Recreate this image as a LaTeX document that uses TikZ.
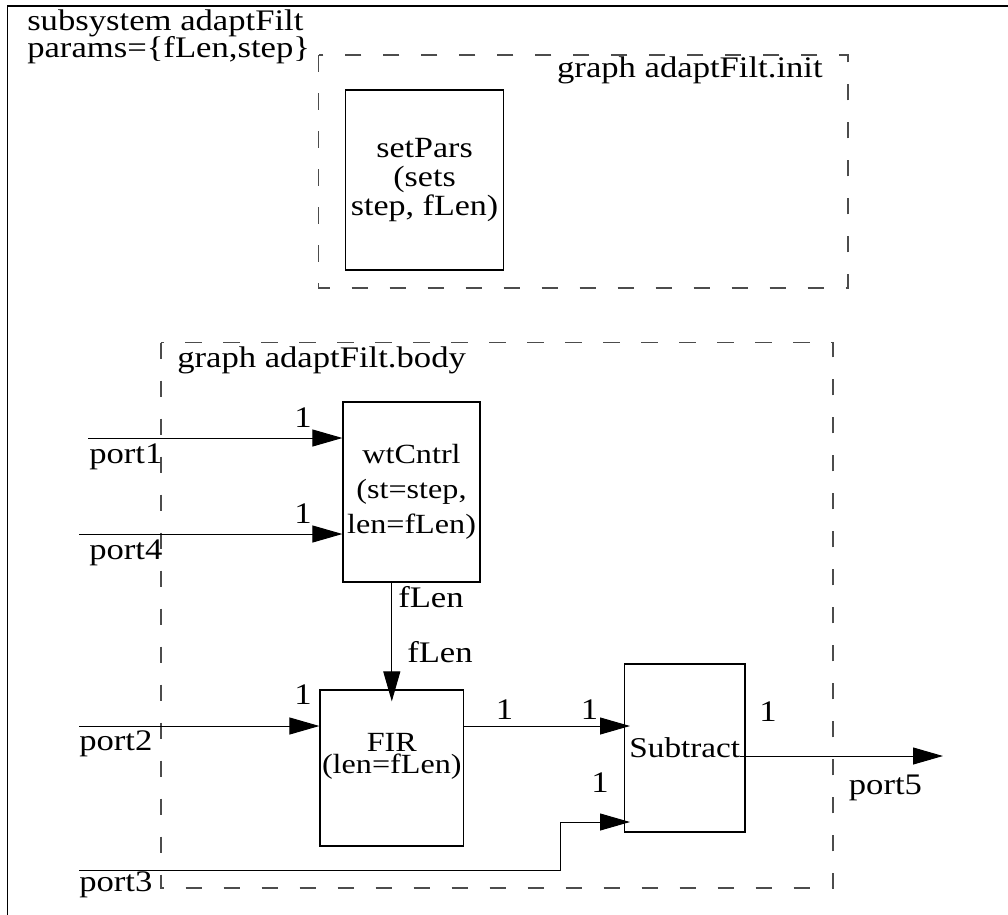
\documentclass[tikz,border=0pt]{standalone}
\usepackage{fontspec}
\setmainfont{Liberation Serif}[FakeStretch=1.16]
\usetikzlibrary{arrows.meta}
\usetikzlibrary{calc}

\tikzset{
  blk/.style={draw, line width=0.9pt, inner ysep=0pt, inner xsep=-10pt, align=center},
  grp/.style={draw=black!70, line width=0.9pt, dash pattern=on 12.5pt off 16pt},
  sig/.style={line width=0.75pt, -{Triangle[length=22.5pt,width=12.75pt]}},
  lbl/.style={inner sep=0pt},
}

\begin{document}
\begin{tikzpicture}[x=0.75pt,y=0.75pt,yscale=-1,xscale=1,font=\fontsize{22.4}{21}\selectfont]
\useasboundingbox (0,0) rectangle (1008,915);

%Frame
\draw [line width=1pt] (7.5,915) -- (7.5,6) -- (1008,6) ;
% Text Node
\node (ttl) [lbl, anchor=base west] at (27,30) {subsystem adaptFilt};
\node (prm) [lbl, anchor=base west] at (27,57) {params=\{fLen,step\}};

%Shape: Rectangle (init graph)
\draw [grp] (318.6,55) rectangle (848,288) ;
\node (initlbl) [lbl, anchor=base east] at (823,77) {graph adaptFilt.init};
\node (setpars) [blk, minimum width=118.5pt, minimum height=135pt, font=\fontsize{22}{21.75}\selectfont] at (424.6,180) {setPars\\(sets\\step, fLen)};

%Shape: Rectangle (body graph)
\draw [grp] (161,342.7) rectangle (833,888) ;
\node (bodylbl) [lbl, anchor=base west] at (177,367) {graph adaptFilt.body};

%Blocks
\node (wt) [blk, minimum width=102.75pt, minimum height=135pt, font=\fontsize{20.8}{26.25}\selectfont] at (411.5,492) {wtCntrl\\(st=step,\\len=fLen)};
\node (fir) [blk, minimum width=107.7pt, minimum height=117pt, text depth=22pt, font=\fontsize{20.8}{17}\selectfont] at (391.8,768) {FIR\\(len=fLen)};
\node (sub) [blk, minimum width=90.3pt, minimum height=126pt, font=\fontsize{21.5}{21}\selectfont] at (684.8,748) {Subtract};

%Port ends
\coordinate (p1) at (88,438);
\coordinate (p4) at (79,534);
\coordinate (p2) at (79,726);
\coordinate (p3) at (79,870);
\coordinate (kink) at (560,822);
\coordinate (p5) at (943,756);

%Straight Lines
\draw [sig] (p1) -- (p1 -| wt.west) ;
\draw [sig] (p4) -- (p4 -| wt.west) ;
\draw [sig] (p2) -- (p2 -| fir.west) ;
\draw [sig] (fir.north |- wt.south) -- ($(fir.north)+(0,12)$) ;
\draw [sig] (p2 -| fir.east) -- ($(p2 -| sub.west)+(6,0)$) ;
\draw [sig] (p3) -| (kink) -- ($(kink -| sub.west)+(6,0)$) ;
\draw [sig] ($(sub.east |- p5)+(-6,0)$) -- (p5) ;

% Text Node
\node (n1) [lbl] at (303,418) {1};
\node (n4) [lbl] at (303,514) {1};
\node (n2) [lbl] at (303,695) {1};
\node (nfo) [lbl] at (504.6,710) {1};
\node (nsa) [lbl] at (589.6,710) {1};
\node (nsb) [lbl] at (600,783) {1};
\node (nso) [lbl] at (768,712) {1};
\node (lp1) [lbl, anchor=base west] at (89,463) {port1};
\node (lp4) [lbl, anchor=base west] at (89,559) {port4};
\node (lp2) [lbl, anchor=base west] at (79,750) {port2};
\node (lp3) [lbl, anchor=base west] at (79,891) {port3};
\node (lp5) [lbl, anchor=base west] at (848.6,794) {port5};
\node (flo) [lbl, anchor=base west] at (398,607) {fLen};
\node (fli) [lbl, anchor=base west] at (407,662) {fLen};

\end{tikzpicture}
\end{document}
